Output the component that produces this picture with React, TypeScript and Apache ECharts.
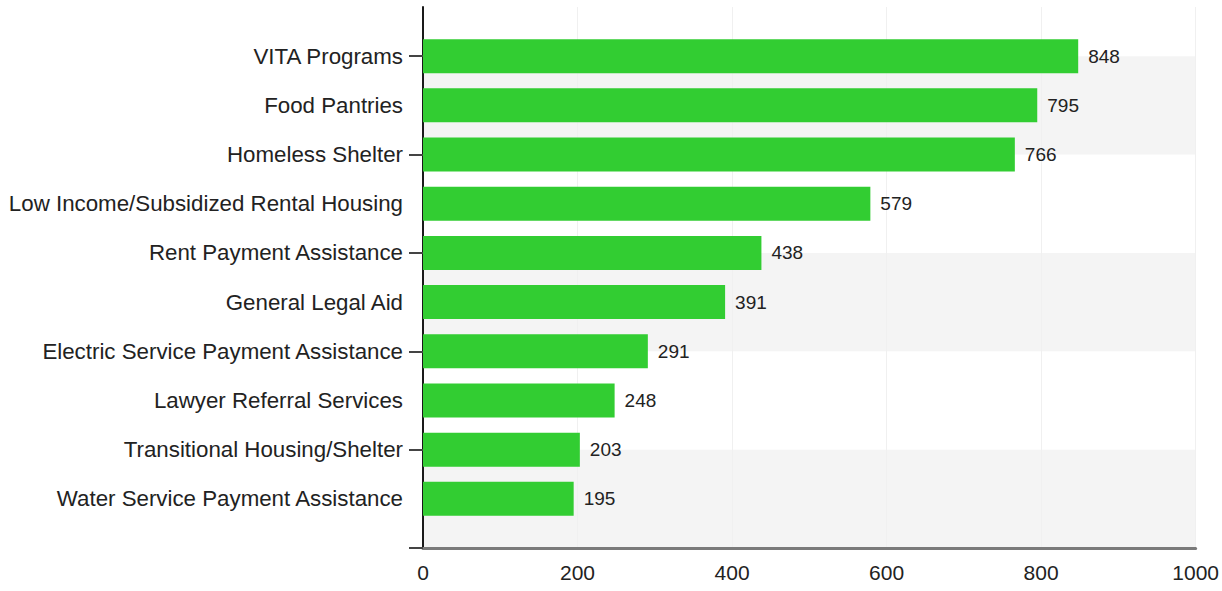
import React, { useEffect, useRef } from "react";
import * as echarts from "echarts";

const categories = [
  "VITA Programs",
  "Food Pantries",
  "Homeless Shelter",
  "Low Income/Subsidized Rental Housing",
  "Rent Payment Assistance",
  "General Legal Aid",
  "Electric Service Payment Assistance",
  "Lawyer Referral Services",
  "Transitional Housing/Shelter",
  "Water Service Payment Assistance",
];
const values = [848, 795, 766, 579, 438, 391, 291, 248, 203, 195];
const xTicks = { min: 0, max: 1000, interval: 200 };

const FONT = "'Liberation Sans', Arial, sans-serif";

export default function App() {
  const ref = useRef<HTMLDivElement>(null);
  useEffect(() => {
    document.body.style.margin = "0";
    const chart = echarts.init(ref.current!, null, { renderer: "svg" });
    // padded category axis: an empty slot above and below the real categories
    const cats = ["", ...categories, ""];
    const data = [null, ...values, null];
    chart.setOption({
      animation: false,
      backgroundColor: "#ffffff",
      grid: { left: 423, right: 24, top: 7, bottom: 43, containLabel: false },
      xAxis: {
        type: "value",
        min: xTicks.min,
        max: xTicks.max,
        interval: xTicks.interval,
        axisLine: { show: true, onZero: false, lineStyle: { color: "#7a7a7a", width: 3 } },
        axisTick: { show: false },
        axisLabel: {
          color: "#222",
          fontSize: 21,
          fontFamily: FONT,
          margin: 14,
          formatter: (v: number) => String(v),
        },
        splitLine: { show: true, lineStyle: { color: "#f0f0f0", width: 1 } },
      },
      yAxis: {
        type: "category",
        data: cats,
        inverse: true,
        boundaryGap: false,
        axisLine: { show: true, lineStyle: { color: "#1a1a1a", width: 2 } },
        axisTick: {
          show: true,
          length: 14,
          interval: (i: number) => i % 2 === 1,
          lineStyle: { color: "#444", width: 2 },
        },
        axisLabel: {
          interval: 0,
          color: "#222",
          fontSize: 22.3,
          fontFamily: FONT,
          margin: 20,
        },
        splitLine: { show: false },
        splitArea: {
          show: true,
          interval: (i: number) => i % 2 === 1,
          areaStyle: { color: ["#f4f4f4", "rgba(255,255,255,0)"] },
        },
      },
      series: [
        {
          type: "bar",
          data,
          barWidth: 34,
          itemStyle: { color: "#32CD32" },
          label: {
            show: true,
            position: "right",
            distance: 10,
            color: "#222",
            fontSize: 19,
            fontFamily: FONT,
          },
        },
      ],
    });
    return () => chart.dispose();
  }, []);
  return (
    <div
      ref={ref}
      style={{ position: "absolute", left: 0, top: 0, width: 1222, height: 591 }}
    />
  );
}
